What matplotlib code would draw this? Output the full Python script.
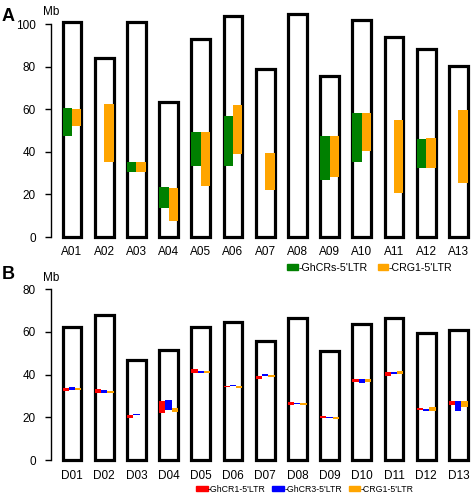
import numpy as np
import matplotlib
matplotlib.use("Agg")
import matplotlib.pyplot as plt
from matplotlib.patches import Rectangle, Patch

plt.rcParams['font.family'] = ['Liberation Sans', 'DejaVu Sans']

# ---- data (Mb) ----
a_names = ["A01", "A02", "A03", "A04", "A05", "A06", "A07", "A08", "A09", "A10", "A11", "A12", "A13"]
a_lengths = [100.8, 84.0, 101.0, 63.5, 92.8, 103.9, 78.7, 104.5, 75.4, 101.7, 94.0, 88.1, 80.4]
ghcrs_start = [47.3, None, 30.5, 13.8, 33.5, 33.2, None, None, 26.6, 35.2, None, 32.5, None]
ghcrs_end = [60.7, None, 35.4, 23.5, 49.4, 56.9, None, None, 47.6, 58.4, None, 45.9, None]
crg1_a_start = [52.3, 35.2, 30.5, 7.4, 23.8, 38.8, 21.9, None, 28.3, 40.5, 20.7, 32.5, 25.2]
crg1_a_end = [60.2, 62.3, 35.4, 23.1, 49.1, 62.0, 39.3, None, 47.6, 58.4, 54.9, 46.3, 59.5]

d_names = ["D01", "D02", "D03", "D04", "D05", "D06", "D07", "D08", "D09", "D10", "D11", "D12", "D13"]
d_lengths = [62.0, 67.7, 47.0, 51.7, 62.4, 64.5, 55.6, 66.3, 51.2, 63.7, 66.5, 59.5, 60.9]
ghcr1_start = [32.1, 31.2, 19.5, 22.0, 40.7, 34.0, 37.8, 25.9, 19.7, 36.7, 39.5, 23.4, 25.6]
ghcr1_end = [33.5, 33.3, 21.1, 27.8, 42.6, 34.7, 39.5, 27.0, 20.4, 37.9, 41.4, 24.4, 27.6]
ghcr3_start = [32.8, 31.4, 20.9, 23.6, 40.6, 34.5, 39.3, 26.0, 19.5, 35.9, 40.3, 23.1, 22.8]
ghcr3_end = [34.2, 32.8, 21.5, 28.1, 41.5, 35.3, 40.1, 26.9, 20.1, 38.1, 41.4, 24.0, 27.6]
crg1_d_start = [32.8, 31.2, 20.9, 22.3, 40.7, 33.9, 39.0, 25.6, 19.3, 36.7, 40.3, 23.1, 24.6]
crg1_d_end = [33.7, 32.3, 21.2, 24.2, 41.5, 34.7, 39.8, 26.7, 20.3, 38.1, 41.5, 24.8, 27.6]

GREEN = "#008000"
ORANGE = "#FFA500"
RED = "#FF0000"
BLUE = "#0000FF"
BAR_W = 0.58
FS = 8.5


def draw_panel(ax, names, lengths, tracks, ymax_axis, ylim_top, ticks):
    xs = np.arange(1, len(names) + 1)
    n = len(tracks)
    sub_w = BAR_W / n
    for i, x in enumerate(xs):
        left = x - BAR_W / 2
        ax.add_patch(Rectangle((left, 0), BAR_W, lengths[i], facecolor="white",
                               edgecolor="black", linewidth=2.3, zorder=2))
        for k, (starts, ends, color) in enumerate(tracks):
            if starts[i] is None:
                continue
            ax.add_patch(Rectangle((left + k * sub_w, starts[i]), sub_w, ends[i] - starts[i],
                                   facecolor=color, edgecolor="none", zorder=3))
    ax.set_xlim(0.3, 13.45)
    ax.set_ylim(-2, ylim_top)
    for s in ["top", "right", "bottom"]:
        ax.spines[s].set_visible(False)
    ax.spines["left"].set_position(("data", 0.34))
    ax.spines["left"].set_bounds(0, ymax_axis)
    ax.spines["left"].set_linewidth(1.0)
    ax.set_yticks(ticks)
    ax.tick_params(axis="y", length=4.6, width=1.0, pad=6, labelsize=FS)
    ax.set_xticks(xs)
    ax.set_xticklabels(names)
    ax.tick_params(axis="x", length=0, labelsize=FS)


fig = plt.figure(figsize=(4.72, 4.95), dpi=100)

ax_a = fig.add_axes([0.1048, 0.5125, 0.897, 0.4691])
draw_panel(ax_a, a_names, a_lengths,
           [(ghcrs_start, ghcrs_end, GREEN), (crg1_a_start, crg1_a_end, ORANGE)],
           100, 107, [0, 20, 40, 60, 80, 100])
ax_a.tick_params(axis="x", pad=3.3)
ax_a.text(0.34, 105.8, "Mb", fontsize=FS, ha="center", va="center")

ax_b = fig.add_axes([0.1048, 0.062, 0.897, 0.3887])
draw_panel(ax_b, d_names, d_lengths,
           [(ghcr1_start, ghcr1_end, RED), (ghcr3_start, ghcr3_end, BLUE),
            (crg1_d_start, crg1_d_end, ORANGE)],
           80, 88, [0, 20, 40, 60, 80])
ax_b.tick_params(axis="x", pad=4.2)
ax_b.text(0.34, 85, "Mb", fontsize=FS, ha="center", va="center")

fig.text(0.004, 0.983, "A", fontsize=13, fontweight="bold", ha="left", va="top")
fig.text(0.004, 0.463, "B", fontsize=13, fontweight="bold", ha="left", va="top")

fig.legend(handles=[Patch(color=GREEN, label="-GhCRs-5'LTR"),
                    Patch(color=ORANGE, label="-CRG1-5'LTR")],
           ncol=2, bbox_to_anchor=(0.784, 0.459), bbox_transform=fig.transFigure,
           loc="center", frameon=False, fontsize=7.7, handlelength=1.0,
           handleheight=0.45, handletextpad=0.05, columnspacing=0.93, borderpad=0)
fig.legend(handles=[Patch(color=RED, label="-GhCR1-5'LTR"),
                    Patch(color=BLUE, label="-GhCR3-5'LTR"),
                    Patch(color=ORANGE, label="-CRG1-5'LTR")],
           ncol=3, bbox_to_anchor=(0.646, 0.0121), bbox_transform=fig.transFigure,
           loc="center", frameon=False, fontsize=6.3, handlelength=1.33,
           handleheight=0.55, handletextpad=0.05, columnspacing=0.75, borderpad=0)

fig.savefig("out.png", dpi=100)
